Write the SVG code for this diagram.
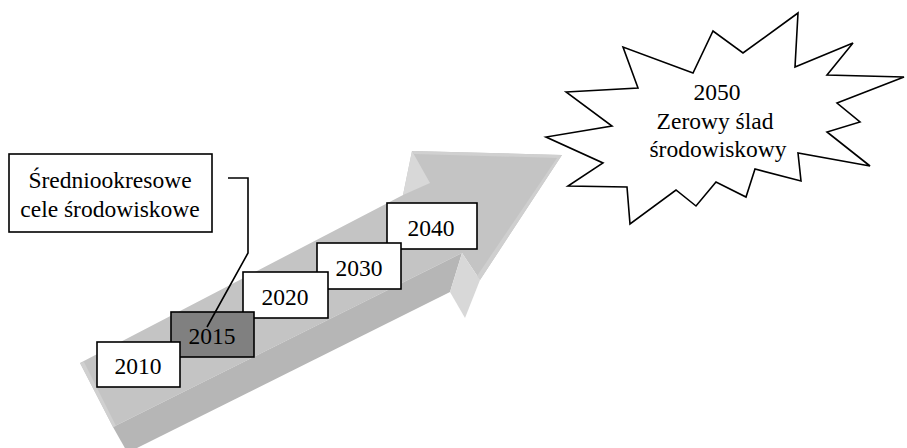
<svg xmlns="http://www.w3.org/2000/svg" width="907" height="448" viewBox="0 0 907 448">
  <style>
    .box { stroke: #000; stroke-width: 1.6; }
    .plain { fill: #fff; }
    .hi { fill: #808080; }
    .lbl { font-family: "Liberation Serif", "Times New Roman", serif; font-size: 23.5px; fill: #000; text-anchor: middle; }
    .wire { fill: none; stroke: #000; stroke-width: 1.6; }
  </style>

  <!-- 3D block arrow running from lower left to upper right -->
  <g id="arrow">
    <!-- main face -->
    <polygon fill="#c4c4c4" points="80,363 403,195 412,151 562,155 480,280 462,253 113,427"/>
    <!-- underside of the shaft -->
    <polygon fill="#b6b6b6" points="113,427 462,253 450,292 133,450 126,450"/>
    <!-- lit bevels -->
    <polygon fill="#d8d8d8" points="412,151 430,183 403,195"/>
    <polygon fill="#d8d8d8" points="462,253 480,280 465,318 450,292"/>
    <polygon fill="#d0d0d0" points="80,363 84,362 116,426 113,427"/>
    <polygon fill="#d0d0d0" points="412,151 562,155 559,158 414,154"/>
    <polygon fill="#cfcfcf" points="562,155 480,280 477,276 557,158"/>
  </g>

  <!-- callout box -->
  <g id="callout">
    <rect class="box plain" x="9" y="154" width="203" height="78"/>
    <text class="lbl" x="110" y="188">Średniookresowe</text>
    <text class="lbl" x="110" y="217">cele środowiskowe</text>
  </g>

  <!-- milestone boxes, later years behind earlier ones -->
  <g id="y2040">
    <rect class="box plain" x="387" y="203" width="90" height="46"/>
    <text class="lbl" x="431" y="236">2040</text>
  </g>
  <g id="y2030">
    <rect class="box plain" x="317" y="243" width="84" height="46"/>
    <text class="lbl" x="359" y="276">2030</text>
  </g>
  <g id="y2020">
    <rect class="box plain" x="243" y="272" width="85" height="46"/>
    <text class="lbl" x="285" y="305">2020</text>
  </g>
  <g id="y2015">
    <rect class="box hi" x="171" y="312" width="83" height="45"/>
    <text class="lbl" x="212" y="344">2015</text>
  </g>
  <g id="y2010">
    <rect class="box plain" x="97" y="342" width="83" height="45"/>
    <text class="lbl" x="138" y="374">2010</text>
  </g>

  <!-- starburst goal -->
  <g id="goal">
    <polygon class="box plain" stroke-linejoin="miter" points="566,92 638,88 623,47 693,73 713,31 743,53 798,13 795,67 853,43 827,75 904,77 837,103 860,122 827,132 870,166 798,153 801,181 755,169 746,197 716,182 696,206 676,190 630,224 627,187 568,186 603,163 546,137 612,126"/>
    <text class="lbl" x="717" y="100">2050</text>
    <text class="lbl" x="715" y="129">Zerowy ślad</text>
    <text class="lbl" x="718" y="157">środowiskowy</text>
  </g>

  <!-- leader from callout to 2015 -->
  <g id="connectors">
    <polyline class="wire" points="228,178 248,178 248,253 207,327"/>
  </g>
</svg>
